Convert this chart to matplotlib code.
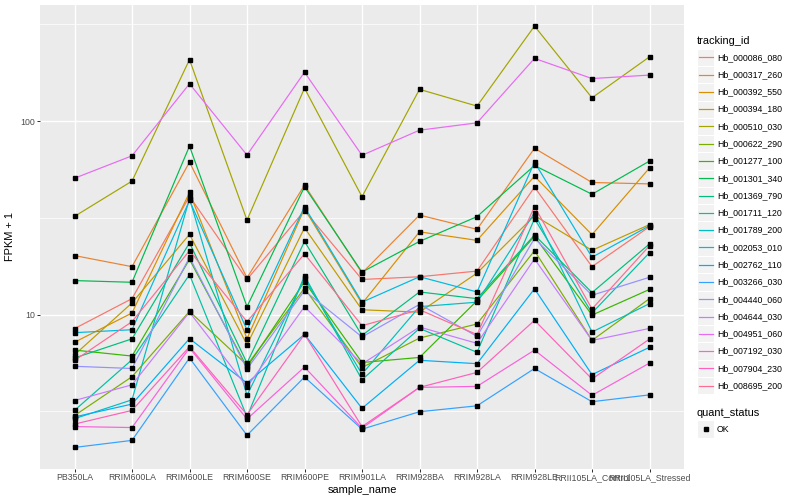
import matplotlib

matplotlib.use("Agg")
import matplotlib.pyplot as plt
import numpy as np
from matplotlib.patches import Rectangle
from matplotlib.ticker import FixedLocator, NullFormatter

plt.rcParams["font.family"] = ["Liberation Sans", "DejaVu Sans"]

samples = [
    "PB350LA", "RRIM600LA", "RRIM600LE", "RRIM600SE", "RRIM600PE", "RRIM901LA",
    "RRIM928BA", "RRIM928LA", "RRIM928LE", "RRII105LA_Control", "RRII105LA_Stressed",
]

tracking_ids = [
    "Hb_000086_080", "Hb_000317_260", "Hb_000392_550", "Hb_000394_180", "Hb_000510_030",
    "Hb_000622_290", "Hb_001277_100", "Hb_001301_340", "Hb_001369_790", "Hb_001711_120",
    "Hb_001789_200", "Hb_002053_010", "Hb_002762_110", "Hb_003266_030", "Hb_004440_060",
    "Hb_004644_030", "Hb_004951_060", "Hb_007192_030", "Hb_007904_230", "Hb_008695_200",
]

# FPKM + 1, one list per tracking_id, in sample order
hb_000086_080 = [8.47, 12.1, 40.9, 15.2, 34.5, 15.2, 15.7, 16.8, 45.6, 17.7, 28.5]
hb_000317_260 = [20.2, 17.7, 61.4, 15.5, 46.7, 16.4, 32.7, 27.6, 72.4, 48.2, 47.4]
hb_000392_550 = [7.2, 10.2, 42.8, 7.52, 35.3, 11.4, 26.8, 24.2, 51.9, 25.9, 57.3]
hb_000394_180 = [6.2, 11.5, 26.0, 7.0, 28.1, 10.6, 10.3, 16.4, 32.5, 21.5, 29.2]
hb_000510_030 = [32.2, 49.0, 208, 30.8, 148, 40.7, 146, 119.6, 310, 132, 215]
hb_000622_290 = [3.01, 4.78, 10.4, 5.49, 13.7, 5.33, 7.57, 8.95, 21.4, 7.36, 12.1]
hb_001277_100 = [6.56, 6.11, 19.3, 5.36, 14.8, 5.66, 6.01, 11.8, 25.4, 9.95, 13.5]
hb_001301_340 = [15.0, 14.7, 74.3, 11.0, 45.8, 16.6, 23.9, 32.1, 59.0, 41.9, 62.2]
hb_001369_790 = [5.97, 7.5, 23.5, 5.62, 23.9, 7.81, 13.1, 12.1, 25.8, 13.0, 23.2]
hb_001711_120 = [3.2, 5.85, 16.1, 2.96, 15.9, 4.61, 8.49, 6.39, 31.3, 10.2, 20.9]
hb_001789_200 = [2.9, 3.63, 39.8, 3.83, 15.4, 4.93, 11.0, 11.6, 33.6, 8.13, 11.4]
hb_002053_010 = [8.07, 8.36, 38.9, 8.34, 36.1, 11.6, 15.7, 13.1, 61.4, 19.8, 28.8]
hb_002762_110 = [2.96, 3.45, 7.52, 4.43, 7.91, 3.28, 5.81, 5.58, 13.6, 4.90, 6.78]
hb_003266_030 = [2.06, 2.24, 5.97, 2.38, 4.76, 2.56, 3.15, 3.38, 5.27, 3.55, 3.85]
hb_004440_060 = [5.41, 5.27, 19.8, 5.24, 13.3, 7.67, 11.3, 7.73, 24.8, 12.6, 15.6]
hb_004644_030 = [3.6, 4.34, 10.3, 4.23, 11.0, 5.56, 8.63, 7.11, 19.4, 7.36, 8.49]
hb_004951_060 = [50.7, 66.2, 156, 66.8, 179, 66.6, 89.8, 98.0, 211, 166, 173]
hb_007192_030 = [2.64, 2.61, 6.73, 2.89, 5.36, 2.59, 4.21, 4.26, 6.56, 3.83, 5.62]
hb_007904_230 = [2.72, 3.2, 6.83, 3.04, 7.91, 2.64, 4.21, 5.03, 9.35, 4.65, 7.48]
hb_008695_200 = [5.8, 9.2, 21.4, 9.2, 20.6, 8.77, 10.6, 7.89, 36.2, 10.7, 22.7]

series = [
    hb_000086_080, hb_000317_260, hb_000392_550, hb_000394_180, hb_000510_030,
    hb_000622_290, hb_001277_100, hb_001301_340, hb_001369_790, hb_001711_120,
    hb_001789_200, hb_002053_010, hb_002762_110, hb_003266_030, hb_004440_060,
    hb_004644_030, hb_004951_060, hb_007192_030, hb_007904_230, hb_008695_200,
]

# ggplot2 default hue palette for 20 levels
colors = [
    "#F8766D", "#EA8331", "#D89000", "#C09B00", "#A3A500", "#7CAE00", "#39B600",
    "#00BB4E", "#00BF7D", "#00C1A3", "#00BFC4", "#00BAE0", "#00B0F6", "#35A2FF",
    "#9590FF", "#C77CFF", "#E76BF3", "#FA62DB", "#FF62BC", "#FF6C91",
]

PT = 0.72  # points per pixel at dpi 100

fig = plt.figure(figsize=(8, 5), dpi=100)
ax = fig.add_axes([40 / 800, 1 - 468.5 / 500, 644 / 800, 463.5 / 500])
ax.set_facecolor("#EBEBEB")
for spine in ax.spines.values():
    spine.set_visible(False)

x = np.arange(1, len(samples) + 1)
for values, color in zip(series, colors):
    ax.plot(x, values, color=color, linewidth=1.2 * PT, zorder=3)
for values in series:
    ax.plot(x, values, linestyle="none", marker="s", markersize=3.1 * PT,
            color="black", zorder=4)

ax.set_yscale("log")
all_values = np.log10(np.concatenate([np.asarray(v, dtype=float) for v in series]))
low, high = all_values.min(), all_values.max()
pad = 0.05 * (high - low)
ax.set_ylim(10 ** (low - pad), 10 ** (high + pad))
ax.set_xlim(0.4, len(samples) + 0.6)

ax.yaxis.set_major_locator(FixedLocator([10, 100]))
ax.set_yticklabels(["10", "100"])
ax.yaxis.set_minor_locator(FixedLocator([10 ** 0.5, 10 ** 1.5, 10 ** 2.5]))
ax.yaxis.set_minor_formatter(NullFormatter())
ax.set_xticks(x)
ax.set_xticklabels(samples)

ax.grid(which="major", color="white", linewidth=1.4 * PT, zorder=0)
ax.grid(which="minor", axis="y", color="white", linewidth=0.7 * PT, zorder=0)
ax.set_axisbelow(True)
ax.tick_params(which="major", length=2.75 * PT, width=1.0 * PT, color="#333333",
               labelcolor="#4D4D4D", labelsize=8.8 * PT, pad=2.2 * PT)
ax.tick_params(which="minor", length=0)

ax.set_xlabel("sample_name", fontsize=11 * PT, labelpad=2)
ax.set_ylabel("FPKM + 1", fontsize=11 * PT, labelpad=4)

# legend drawn in pixel coordinates, ggplot style
leg = fig.add_axes([0, 0, 1, 1])
leg.set_axis_off()
leg.set_xlim(0, 800)
leg.set_ylim(500, 0)

key = 17.28
leg.text(696.5, 40.5, "tracking_id", fontsize=11 * PT, va="center", ha="left")
for i, (name, color) in enumerate(zip(tracking_ids, colors)):
    cy = 57.3 + i * key
    leg.add_patch(Rectangle((697, cy - key / 2), key, key, facecolor="#F2F2F2",
                            edgecolor="white", linewidth=1.0 * PT))
    leg.plot([698.8, 712.5], [cy, cy], color=color, linewidth=1.2 * PT)
    leg.text(717, cy, name, fontsize=8.8 * PT, va="center", ha="left")

leg.text(696.5, 412.5, "quant_status", fontsize=11 * PT, va="center", ha="left")
leg.add_patch(Rectangle((697, 429 - key / 2), key, key, facecolor="#F2F2F2",
                        edgecolor="white", linewidth=1.0 * PT))
leg.plot([697 + key / 2], [429], marker="s", markersize=3.1 * PT, color="black")
leg.text(717, 429, "OK", fontsize=8.8 * PT, va="center", ha="left")

fig.savefig("out.png", dpi=100)
